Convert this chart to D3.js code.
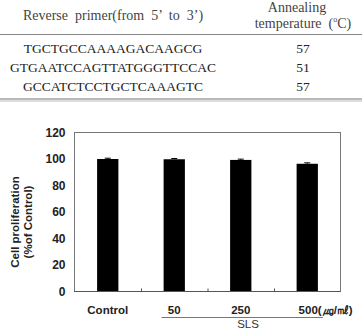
<!DOCTYPE html>
<html>
<head>
<meta charset="utf-8">
<script src="https://cdn.jsdelivr.net/npm/d3@7"></script>
<style>
  body { margin: 0; background: #fff; }
  svg { display: block; }
  text { white-space: pre; }
</style>
</head>
<body>
<div id="chart"></div>
<script>
// Table data
const primers = ["TGCTGCCAAAAGACAAGCG", "GTGAATCCAGTTATGGGTTCCAC", "GCCATCTCCTGCTCAAAGTC"];
const temps = ["57", "51", "57"];

// Bar chart data
const groups = ["Control", "50", "250", "500"];
const groupLabels = ["Control", "50", "250", "500(㎍/㎖)"];
const values = [100, 99.8, 99.3, 96.4];
const errors = [0.6, 0.6, 0.6, 0.7];
const yTicks = [0, 20, 40, 60, 80, 100, 120];

const W = 362, H = 330;
const svg = d3.select("#chart").append("svg")
    .attr("width", W)
    .attr("height", H);

// ---- table ----
const serif = "'Liberation Serif', 'Times New Roman', serif";
const tbl = svg.append("g").attr("font-family", serif).attr("fill", "#222");
const col1 = 113, col2 = 303;

tbl.append("text").attr("x", col1).attr("y", 20)
    .attr("text-anchor", "middle").attr("font-size", 14).attr("fill", "#444")
    .text("Reverse  primer(from  5’  to  3’)");
tbl.append("text").attr("x", col2 - 6).attr("y", 12)
    .attr("text-anchor", "middle").attr("font-size", 14).attr("fill", "#444")
    .text("Annealing");
const tt = tbl.append("text").attr("x", col2).attr("y", 28)
    .attr("text-anchor", "middle").attr("font-size", 14).attr("fill", "#444");
tt.append("tspan").text("temperature  (");
tt.append("tspan").attr("font-size", 8).attr("dy", -6).text("o");
tt.append("tspan").attr("dy", 6).text("C)");

tbl.append("line").attr("x1", 0).attr("x2", W).attr("y1", 34.5).attr("y2", 34.5)
    .attr("stroke", "#888").attr("stroke-width", 1);

const rowY = d3.scaleLinear().domain([0, 1]).range([53, 72]);
primers.forEach((p, i) => {
    tbl.append("text").attr("x", col1).attr("y", rowY(i))
        .attr("text-anchor", "middle").attr("font-size", 13.5).text(p);
    tbl.append("text").attr("x", col2).attr("y", rowY(i))
        .attr("text-anchor", "middle").attr("font-size", 13.5).text(temps[i]);
});

tbl.append("line").attr("x1", 0).attr("x2", W).attr("y1", 99).attr("y2", 99)
    .attr("stroke", "#777").attr("stroke-width", 1.2);
tbl.append("line").attr("x1", 0).attr("x2", W).attr("y1", 101).attr("y2", 101)
    .attr("stroke", "#aaa").attr("stroke-width", 0.8);

// ---- bar chart ----
const plot = { left: 74.5, right: 340.5, top: 132.5, bottom: 291.5 };
const sans = "Arial, 'Liberation Sans', sans-serif";

const x = d3.scaleBand().domain(groups)
    .range([plot.left, plot.right])
    .paddingInner(0.68).paddingOuter(0.34);
const y = d3.scaleLinear().domain([0, 120]).range([plot.bottom, plot.top]);

// frame
svg.append("rect")
    .attr("x", plot.left).attr("y", plot.top)
    .attr("width", plot.right - plot.left).attr("height", plot.bottom - plot.top)
    .attr("fill", "none").attr("stroke", "#777").attr("stroke-width", 1);

// bars
svg.selectAll(".bar").data(groups).enter().append("rect")
    .attr("class", "bar")
    .attr("x", d => x(d))
    .attr("y", (d, i) => y(values[i]))
    .attr("width", x.bandwidth())
    .attr("height", (d, i) => y(0) - y(values[i]))
    .attr("fill", "#000");

// error bars
const eb = svg.selectAll(".err").data(groups).enter().append("g").attr("class", "err")
    .attr("stroke", "#000").attr("stroke-width", 1);
eb.append("line")
    .attr("x1", d => x(d) + x.bandwidth() / 2).attr("x2", d => x(d) + x.bandwidth() / 2)
    .attr("y1", (d, i) => y(values[i])).attr("y2", (d, i) => y(values[i] + errors[i]));
eb.append("line")
    .attr("x1", d => x(d) + x.bandwidth() / 2 - 3).attr("x2", d => x(d) + x.bandwidth() / 2 + 3)
    .attr("y1", (d, i) => y(values[i] + errors[i])).attr("y2", (d, i) => y(values[i] + errors[i]));

// bottom axis with ticks between bars
const step = x.step();
const xAxis = svg.append("g").attr("transform", `translate(0,${plot.bottom})`);
xAxis.append("line").attr("x1", plot.left - 0.5).attr("x2", plot.right)
    .attr("stroke", "#555").attr("stroke-width", 1.2);
groups.slice(1).forEach(g => {
    const tx = x(g) - (step - x.bandwidth()) / 2 + 0.5;
    xAxis.append("line").attr("x1", tx).attr("x2", tx).attr("y1", 0).attr("y2", -3)
        .attr("stroke", "#555").attr("stroke-width", 1);
});

// y axis labels (no ticks)
const yAxis = d3.axisLeft(y).tickValues(yTicks).tickSize(0).tickPadding(9);
svg.append("g").attr("transform", `translate(${plot.left},0)`)
    .call(yAxis)
    .call(g => g.select(".domain").remove())
    .call(g => g.selectAll("text")
        .attr("font-family", sans).attr("font-weight", "bold")
        .attr("font-size", 12).attr("fill", "#222"));

// x labels
svg.selectAll(".xlab").data(groups).enter().append("text")
    .attr("class", "xlab")
    .attr("x", (d, i) => i === 3 ? x(d) + 2 : x(d) + x.bandwidth() / 2)
    .attr("y", 314)
    .attr("text-anchor", (d, i) => i === 3 ? "start" : "middle")
    .attr("font-family", sans).attr("font-weight", "bold")
    .attr("font-size", 11.5).attr("fill", "#222")
    .text((d, i) => groupLabels[i]);

// SLS bracket
svg.append("line").attr("x1", 161.5).attr("x2", 323).attr("y1", 317.5).attr("y2", 317.5)
    .attr("stroke", "#777").attr("stroke-width", 1.2);
svg.append("text").attr("x", 248).attr("y", 328)
    .attr("text-anchor", "middle").attr("font-family", sans)
    .attr("font-size", 11.5).attr("fill", "#333").text("SLS");

// y title
const yt = svg.append("text")
    .attr("transform", "translate(19,222) rotate(-90)")
    .attr("text-anchor", "middle").attr("font-family", sans)
    .attr("font-weight", "bold").attr("font-size", 11.5).attr("fill", "#222");
yt.append("tspan").attr("x", 0).attr("dy", 0).text("Cell proliferation");
yt.append("tspan").attr("x", 0).attr("dy", 13).text("(%of Control)");
</script>
</body>
</html>
